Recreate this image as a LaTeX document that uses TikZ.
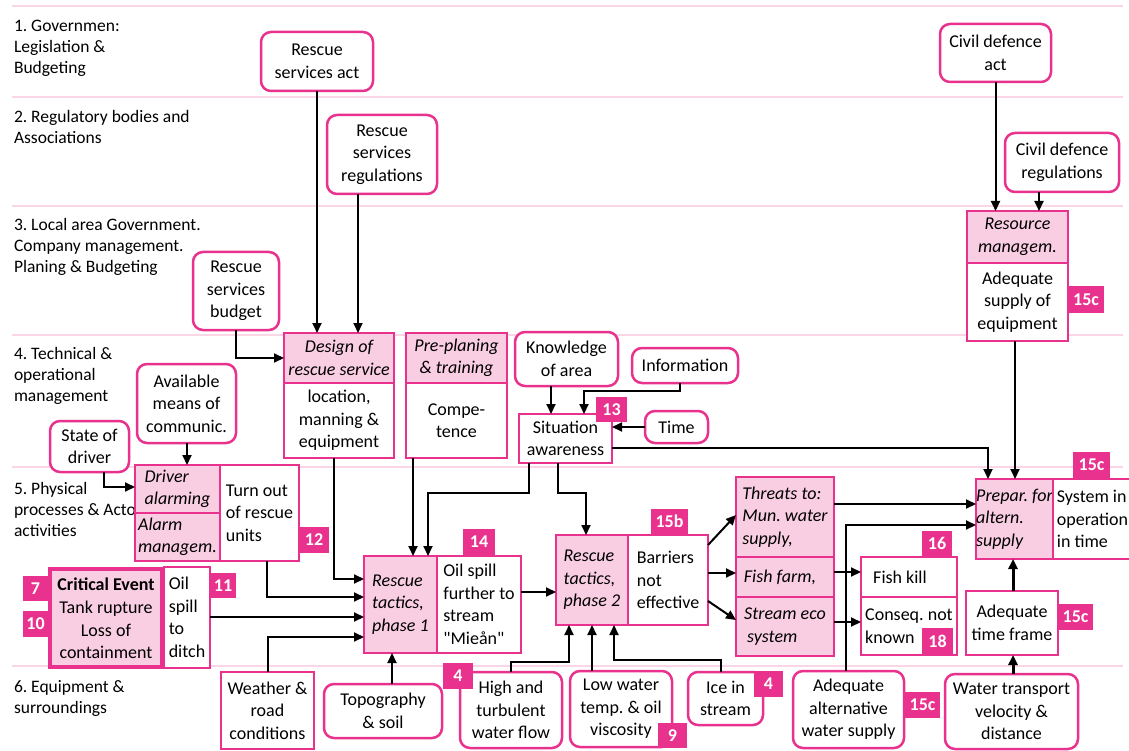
\documentclass[tikz,border=0pt]{standalone}
\usepackage{fontspec}
\setmainfont{Carlito}
\newfontfamily\plainquote{Carlito}
\usetikzlibrary{arrows.meta}
\definecolor{mag}{RGB}{233,50,142}
\definecolor{pinkfill}{RGB}{249,206,226}
\definecolor{laneline}{RGB}{250,214,230}
\newcommand\bodyfont{\fontsize{18}{22.5}\selectfont}
\newcommand\straightq{{\plainquote"}}
\tikzset{
  every node/.style={font=\bodyfont, inner sep=0pt, outer sep=0pt},
  wh/.style 2 args={minimum width=#1pt, minimum height=#2pt},
  rbox/.style={draw=mag, line width=2.5pt, rounded corners=10pt, fill=white, align=center},
  sbox/.style={draw=mag, line width=2.5pt, fill=white, align=center},
  pbox/.style={sbox, fill=pinkfill},
  it/.style={font=\bodyfont\itshape},
  badge/.style={fill=mag, text=white, font=\fontsize{18}{20}\selectfont\bfseries},
  arr/.style={draw=black, line width=2pt, -{Triangle[length=10pt,width=9pt]}},
  thickarr/.style={arr, line width=3pt},
  lane/.style={draw=laneline, line width=1.3pt},
  lanelabel/.style={anchor=north west, align=left, font=\fontsize{17.5}{21}\selectfont},
}
\begin{document}
\begin{tikzpicture}[x=1pt,y=-1pt]
\useasboundingbox (0,0) rectangle (1129,751);
% lane separators
\foreach \yy in {6,97,206,335,467,666} \draw[lane] (12,\yy) -- (1123,\yy);
% lane titles
\node[lanelabel] (l1) at (14,20) {1.\ Governmen:\\Legislation \&\\Budgeting};
\node[lanelabel] (l2) at (14,110) {2.\ Regulatory bodies and\\Associations};
\node[lanelabel] (l3) at (14,218) {3.\ Local area Government.\\Company management.\\Planing \& Budgeting};
\node[lanelabel] (l4) at (14,347) {4.\ Technical \&\\operational\\management};
\node[lanelabel] (l5) at (14,482) {5.\ Physical\\processes \& Actor\\activities};
\node[lanelabel] (l6) at (14,680) {6.\ Equipment \&\\surroundings};

% lanes 1-3
\node[rbox, wh={112}{59}] (rsact) at (317,61.5) {Rescue\\services act};
\node[rbox, wh={110}{79}] (rsreg) at (382,154.5) {Rescue\\services\\regulations};
\node[rbox, wh={86}{78}] (budget) at (236,291) {Rescue\\services\\budget};
\node[rbox, wh={111}{58}] (cdact) at (995.5,53) {Civil defence\\act};
\node[rbox, wh={114}{59}] (cdreg) at (1062,162.5) {Civil defence\\regulations};
\node[pbox, it, wh={101}{52}] (reshead) at (1017.5,237) {Resource\\managem.};
\node[sbox, wh={101}{78}] (resbody) at (1017.5,302) {Adequate\\supply of\\equipment};
\node[badge, wh={36}{27}] (b15a) at (1086,299.5) {15c};

% lane 4
\node[pbox, it, wh={110}{50}] (dhead) at (339,358) {Design of\\rescue service};
\node[sbox, wh={110}{75}] (dbody) at (339,420.5) {location,\\manning \&\\equipment};
\node[pbox, it, wh={101}{50}] (phead) at (456.5,358) {Pre-planing\\\& training};
\node[sbox, wh={101}{75}] (pbody) at (456.5,420.5) {Compe-\\tence};
\node[rbox, wh={103}{54}] (know) at (566.5,359) {Knowledge\\of area};
\node[rbox, wh={106}{35}] (info) at (685,365.5) {Information};
\node[sbox, wh={93}{49}] (sa) at (565.5,438.5) {Situation\\awareness};
\node[badge, wh={31}{25}] (b13) at (611.5,409.5) {13};
\node[rbox, wh={63}{32}] (time) at (676.5,427) {Time};
\node[rbox, wh={99}{79}] (avail) at (186.5,403.5) {Available\\means of\\communic.};
\node[rbox, wh={79}{51}] (state) at (89.5,446.5) {State of\\driver};

% lane 5
\node[pbox, it, align=left, wh={85}{48}] (drv) at (177.5,489) {Driver\\alarming};
\node[pbox, it, align=left, wh={85}{48}] (alarm) at (177.5,537) {Alarm\\managem.};
\node[sbox, align=left, wh={79}{96}] (turnout) at (259.5,513) {Turn out\\of rescue\\units};
\node[badge, wh={30}{26}] (b12) at (314,540) {12};

\node[pbox, line width=4.5pt, wh={112}{98}] (crit) at (106,618) {\textbf{Critical Event}\\[1pt]Tank rupture\\Loss of\\containment};
\node[sbox, align=left, wh={46}{101}] (oilsp) at (187,617.5) {Oil\\spill\\to\\ditch};
\node[badge, wh={25}{25}] (b7) at (35.5,588.5) {7};
\node[badge, wh={25}{26}] (b10) at (35.5,624) {10};
\node[badge, wh={26}{25}] (b11) at (223,585.5) {11};

\node[pbox, it, align=left, wh={73}{97}] (ph1L) at (400.5,604.5) {Rescue\\tactics,\\phase 1};
\node[sbox, align=left, wh={84}{97}] (ph1R) at (479,604.5) {Oil spill\\further to\\stream\\\straightq Mieån\straightq};
\node[badge, wh={32}{26}] (b14) at (479,542) {14};

\node[pbox, it, align=left, wh={72}{90}] (ph2L) at (592,580) {Rescue\\tactics,\\phase 2};
\node[sbox, align=left, wh={80}{90}] (ph2R) at (668,580) {Barriers\\not\\effective};
\node[badge, wh={37}{25}] (b15b) at (669.5,521.5) {15b};

\node[pbox, it, align=left, wh={98}{80}] (threats) at (785,517) {Threats to:\\Mun.\ water\\supply,\hspace*{10pt}};
\node[pbox, it, align=left, wh={98}{40}] (fishfarm) at (785,577) {Fish farm,\hspace*{10pt}};
\node[pbox, it, align=left, wh={98}{59}] (stream) at (785,626.5) {Stream eco\\\hspace*{3pt}system};

\node[sbox, align=left, wh={96}{40}] (fishkill) at (909,577) {Fish kill\hspace*{18pt}};
\node[sbox, align=left, wh={96}{58}] (conseq) at (909,626) {Conseq.\ not\\known};
\node[badge, wh={30}{25}] (b16) at (937,543.5) {16};
\node[badge, wh={31}{26}] (b18) at (937.5,641) {18};

\node[pbox, it, align=left, wh={77}{80}] (prepL) at (1014.5,519) {Prepar.\ for\\altern.\\supply};
\node[sbox, align=left, wh={79}{80}] (prepR) at (1092.5,519) {System in\\operation\\in time};
\node[badge, wh={37}{26}] (b15c) at (1091.5,465) {15c};

\node[sbox, wh={92}{64}] (tf) at (1012,623) {Adequate\\time frame};
\node[badge, wh={35}{26}] (b15d) at (1075.5,617) {15c};

% lane 6
\node[sbox, wh={93}{77}] (weather) at (267.5,710.5) {Weather \&\\road\\conditions};
\node[rbox, wh={118}{54}] (topo) at (383,711) {Topography\\\& soil};
\node[rbox, wh={102}{76}] (high) at (511,710) {High and\\turbulent\\water flow};
\node[badge, wh={30}{26}] (b4a) at (458,676) {4};
\node[rbox, wh={102}{76}] (low) at (621,709) {Low water\\temp.\ \& oil\\viscosity};
\node[badge, wh={29}{25}] (b9) at (672.5,735.5) {9};
\node[rbox, wh={75}{53}] (ice) at (725.5,698.5) {Ice in\\stream};
\node[badge, wh={29}{26}] (b4b) at (768.5,684) {4};
\node[rbox, wh={111}{77}] (altw) at (848.5,709.5) {Adequate\\alternative\\water supply};
\node[badge, wh={35}{26}] (b15e) at (922.5,705) {15c};
\node[rbox, wh={133}{75}] (water) at (1011.5,711.5) {Water transport\\velocity \&\\distance};

% connectors
\draw[arr] (rsact.south) -- (rsact.south |- dhead.north);
\draw[arr] (358,0 |- rsreg.south) -- (358,0 |- dhead.north);
\draw[arr] (budget.south) |- (dhead.west);
\draw[arr] (cdact.south) -- (cdact.south |- reshead.north);
\draw[arr] (1039,0 |- cdreg.south) -- (1039,0 |- reshead.north);
\draw[arr] (1015,0 |- resbody.south) -- (1015,0 |- prepL.north);
\draw[arr] (551,0 |- know.south) -- (551,0 |- sa.north);
\draw[arr] (680,0 |- info.south) -- (680,391) -| (584,0 |- sa.north);
\draw[arr] (time.west) -- (time.west -| sa.east);
\draw[arr] (sa.east |- 0,448) -| (988,0 |- prepL.north);
\draw[arr] (529,0 |- sa.south) -- (529,493) -| (428,0 |- ph1L.north);
\draw[arr] (558,0 |- sa.south) -- (558,493) -| (586,0 |- ph2L.north);
\draw[arr] (413,0 |- pbody.south) -- (413,0 |- ph1L.north);
\draw[arr] (334,0 |- dbody.south) |- (ph1L.west |- 0,579);
\draw[arr] (267,0 |- turnout.south) |- (ph1L.west |- 0,597);
\draw[arr] (oilsp.east |- 0,617) -- (ph1L.west |- 0,617);
\draw[arr] (268,0 |- weather.north) |- (ph1L.west |- 0,637);
\draw[arr] (392,0 |- topo.north) -- (392,0 |- ph1L.south);
\draw[arr] (ph1R.east |- 0,592) -- (ph2L.west |- 0,592);
\draw[arr] (511,0 |- high.north) -- (511,662) -| (569,0 |- ph2L.south);
\draw[arr] (592,0 |- low.north) -- (592,0 |- ph2L.south);
\draw[arr] (721,0 |- ice.north) -- (721,660) -| (614,0 |- ph2L.south);
\draw[arr] (ph2R.east |- 0,545) -- (threats.west |- 0,515);
\draw[arr] (ph2R.east |- 0,573) -- (fishfarm.west |- 0,573);
\draw[arr] (ph2R.east |- 0,601) -- (stream.west |- 0,620);
\draw[arr] (threats.east |- 0,504) -- (prepL.west |- 0,504);
\draw[arr] (fishfarm.east |- 0,572) -- (fishkill.west |- 0,572);
\draw[arr] (stream.east |- 0,622) -- (conseq.west |- 0,622);
\draw[arr] (846,0 |- altw.north) |- (prepL.west |- 0,525);
\draw[thickarr] (1013,0 |- tf.north) -- (1013,0 |- prepL.south);
\draw[thickarr] (1013,0 |- water.north) -- (1013,0 |- tf.south);
\draw[arr] (187,0 |- avail.south) -- (187,0 |- drv.north);
\draw[arr] (104,0 |- state.south) |- (drv.west |- 0,487);
\end{tikzpicture}
\end{document}
